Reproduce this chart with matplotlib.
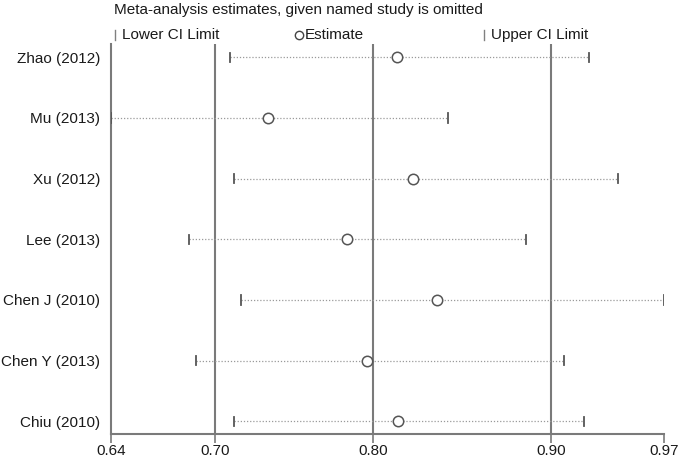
import matplotlib.pyplot as plt
from matplotlib.lines import Line2D
import numpy as np

plt.rcParams['font.family'] = ['Liberation Sans', 'DejaVu Sans']

studies = ["Zhao (2012)", "Mu (2013)", "Xu (2012)", "Lee (2013)",
           "Chen J (2010)", "Chen Y (2013)", "Chiu (2010)"]
estimate = [0.8108, 0.7335, 0.8200, 0.7806, 0.8344, 0.7928, 0.8114]
lower_ci = [0.7108, 0.6400, 0.7132, 0.6865, 0.7174, 0.6907, 0.7134]
upper_ci = [0.9254, 0.8409, 0.9425, 0.8875, 0.9700, 0.9105, 0.9223]

# pooled estimate and its CI (vertical reference lines)
pooled = [0.7022, 0.7963, 0.9026]
tick_vals = [0.64] + pooled + [0.97]
tick_labels = ["0.64", "0.70", "0.80", "0.90", "0.97"]

fig = plt.figure(figsize=(6.85, 4.59), dpi=100)
ax = fig.add_axes([111 / 685, 25 / 459, 553 / 685, 390 / 459])

y = np.arange(1, len(studies) + 1)

for v in pooled:
    ax.axvline(v, color='#7a7a7a', lw=1.5, zorder=1)

for yi, lo, est, hi in zip(y, lower_ci, estimate, upper_ci):
    ax.plot([lo, hi], [yi, yi], color='#9a9a9a', lw=0.9, ls=(0, (1, 1.5)), zorder=2)
    ax.plot([lo, lo], [yi - 0.075, yi + 0.075], color='#555555', lw=1.3, zorder=3)
    ax.plot([hi, hi], [yi - 0.075, yi + 0.075], color='#555555', lw=1.3, zorder=3)

ax.plot(estimate, y, 'o', ms=7.5, mfc='white', mec='#555555', mew=1.1, ls='none', zorder=4)

ax.set_xlim(0.64, 0.97)
ax.set_ylim(7.21, 0.78)
ax.set_xticks(tick_vals, tick_labels, fontsize=11, color='#1a1a1a')
ax.set_yticks(y, studies, fontsize=11, color='#1a1a1a')
ax.tick_params(axis='y', length=0, pad=8)
ax.tick_params(axis='x', length=6.5, width=1.2, color='#7a7a7a', pad=1)

for s in ['top', 'right']:
    ax.spines[s].set_visible(False)
for s in ['left', 'bottom']:
    ax.spines[s].set_color('#7a7a7a')
    ax.spines[s].set_linewidth(1.5)

# header and legend
fig.text(114 / 685, 1 - 10 / 459, "Meta-analysis estimates, given named study is omitted",
         fontsize=11, color='#1a1a1a', va='center', ha='left')
ly = 1 - 35 / 459
fig.add_artist(Line2D([115 / 685, 115 / 685], [ly - 5 / 459, ly + 5 / 459], color='#808080', lw=1.0))
fig.text(122 / 685, ly, "Lower CI Limit", fontsize=11, color='#1a1a1a', va='center', ha='left')
fig.add_artist(Line2D([299 / 685], [ly], marker='o', ms=6, mfc='white', mec='#444444', mew=1.0))
fig.text(305 / 685, ly, "Estimate", fontsize=11, color='#1a1a1a', va='center', ha='left')
fig.add_artist(Line2D([484 / 685, 484 / 685], [ly - 5 / 459, ly + 5 / 459], color='#808080', lw=1.0))
fig.text(491 / 685, ly, "Upper CI Limit", fontsize=11, color='#1a1a1a', va='center', ha='left')

fig.savefig("out.png", dpi=100)
